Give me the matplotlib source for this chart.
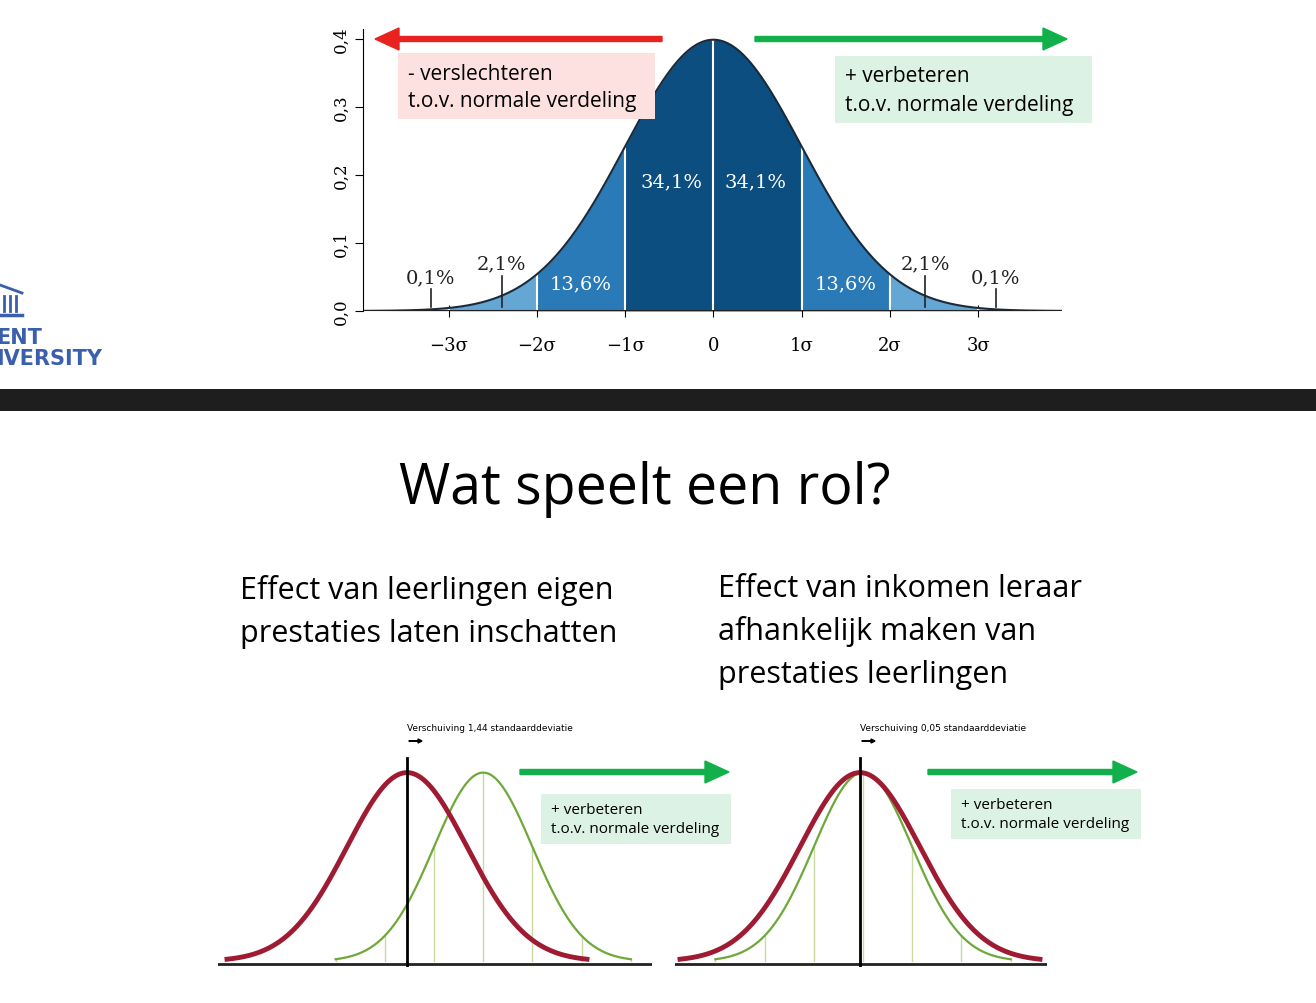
import numpy as np
import matplotlib
matplotlib.use("Agg")
import matplotlib.pyplot as plt
from matplotlib.patches import Rectangle, FancyArrow

W, H = 1316, 1004
sigma_ticks = [-3, -2, -1, 0, 1, 2, 3]
sigma_labels = ["\u22123\u03c3", "\u22122\u03c3", "\u22121\u03c3", "0", "1\u03c3", "2\u03c3", "3\u03c3"]
y_ticks = [0.0, 0.1, 0.2, 0.3, 0.4]
y_labels = ["0,0", "0,1", "0,2", "0,3", "0,4"]
band_pcts = ["13,6%", "34,1%", "34,1%", "13,6%"]
tail_pcts = ["0,1%", "2,1%", "2,1%", "0,1%"]
shift_left = 1.44
shift_right = 0.05

def pdf(x, m=0.0, s=1.0):
    return np.exp(-0.5 * ((x - m) / s) ** 2) / (s * np.sqrt(2 * np.pi))

fig = plt.figure(figsize=(W / 100, H / 100), dpi=100)
bg = fig.add_axes([0, 0, 1, 1])
bg.set_xlim(0, W); bg.set_ylim(H, 0); bg.axis("off")
bg.set_zorder(10); bg.patch.set_alpha(0)

def ax_px(l, t, r, b):
    a = fig.add_axes([l / W, 1 - b / H, (r - l) / W, (b - t) / H])
    a.patch.set_alpha(0)
    return a

# ---------- top chart ----------
ax = ax_px(363, 30, 1062, 312)
ax.set_xlim(-3.97, 3.95); ax.set_ylim(0, 0.4147)
x = np.linspace(-3.97, 3.95, 800)
cols = {0: "#0d4e80", 1: "#2a7ab8", 2: "#64a6d4", 3: "#a8cbe6"}
for lo, hi, c in [(-3.97, -3, 3), (-3, -2, 2), (-2, -1, 1), (-1, 0, 0), (0, 1, 0), (1, 2, 1), (2, 3, 2), (3, 3.95, 3)]:
    xs = np.linspace(lo, hi, 100)
    ax.fill_between(xs, 0, pdf(xs), color=cols[c], lw=0)
for b in [-3, -2, -1, 0, 1, 2, 3]:
    ax.plot([b, b], [0, pdf(b)], color="white", lw=1.5)
ax.plot(x, pdf(x), color="#1a2a3a", lw=1.5)
ax.plot([-3.97, 3.95], [0, 0], color="#222", lw=1.5)
for s in ["top", "right", "bottom"]:
    ax.spines[s].set_visible(False)
ax.set_xticks(sigma_ticks)
ax.set_xticklabels(sigma_labels, fontfamily="DejaVu Serif", fontsize=13)
ax.tick_params(axis="x", length=8, direction="inout", pad=14)
ax.set_yticks(y_ticks)
ax.set_yticklabels(y_labels, rotation=90, fontfamily="DejaVu Serif", fontsize=12, va="center")
ax.tick_params(axis="y", length=6)
for xc, yc, t in [(-1.5, 0.04, band_pcts[0]), (-0.48, 0.19, band_pcts[1]), (0.48, 0.19, band_pcts[2]), (1.5, 0.04, band_pcts[3])]:
    ax.text(xc, yc, t, color="white", ha="center", va="center", fontsize=14, fontfamily="DejaVu Serif")
for xc, yc, t in [(-3.2, 0.05, tail_pcts[0]), (-2.4, 0.07, tail_pcts[1]), (2.4, 0.07, tail_pcts[2]), (3.2, 0.05, tail_pcts[3])]:
    ax.text(xc, yc, t, color="#222", ha="center", va="center", fontsize=14, fontfamily="DejaVu Serif")
    ax.plot([xc, xc], [0.006, yc - 0.018], color="#222", lw=1.2)

# arrows and boxes (top)
bg.add_patch(FancyArrow(662, 40, -263, 0, width=5, head_width=22, head_length=24, color="#e8221f"))
bg.add_patch(FancyArrow(755, 40, 288, 0, width=5, head_width=22, head_length=24, color="#12b04a"))
bg.add_patch(Rectangle((398, 54), 257, 66, color="#fde0e0", lw=0))
bg.add_patch(Rectangle((835, 57), 257, 67, color="#dcf2e4", lw=0))
bg.text(408, 74, "- verslechteren", fontsize=15, va="center", fontfamily="Open Sans")
bg.text(408, 102, "t.o.v. normale verdeling", fontsize=15, va="center", fontfamily="Open Sans")
bg.text(845, 77, "+ verbeteren", fontsize=15, va="center", fontfamily="Open Sans")
bg.text(845, 106, "t.o.v. normale verdeling", fontsize=15, va="center", fontfamily="Open Sans")

# logo fragment
bg.text(-4, 338, "ENT", color="#3a5fae", fontsize=15, fontweight="bold", va="center", fontfamily="DejaVu Sans")
bg.text(-4, 359, "IVERSITY", color="#3a5fae", fontsize=15, fontweight="bold", va="center", fontfamily="DejaVu Sans")
bg.plot([0, 22], [286, 294], color="#3a5fae", lw=2)
for xx in [4, 10, 16]:
    bg.plot([xx, xx], [297, 312], color="#3a5fae", lw=2)
bg.plot([0, 22], [316, 316], color="#3a5fae", lw=2.5)

# black band
bg.add_patch(Rectangle((0, 390), W, 22, color="#1e1e1e", lw=0))

bg.text(645, 490, "Wat speelt een rol?", fontsize=40, ha="center", va="center", fontfamily="Open Sans")
bg.text(240, 591, "Effect van leerlingen eigen", fontsize=22, va="center", fontfamily="Open Sans")
bg.text(240, 634, "prestaties laten inschatten", fontsize=22, va="center", fontfamily="Open Sans")
bg.text(718, 589, "Effect van inkomen leraar", fontsize=22, va="center", fontfamily="Open Sans")
bg.text(718, 632, "afhankelijk maken van", fontsize=22, va="center", fontfamily="Open Sans")
bg.text(718, 675, "prestaties leerlingen", fontsize=22, va="center", fontfamily="Open Sans")

# ---------- bottom charts ----------
def small(l, r, zero_px, sig_px, shift, label, arrow_x, box):
    a = ax_px(l, 740, r, 968)
    x0 = (l - zero_px) / sig_px
    x1 = (r - zero_px) / sig_px
    a.set_xlim(x0, x1); a.set_ylim(-0.012, 0.47)
    a.axis("off")
    gs = 0.82
    xs = np.linspace(-3, 3, 400)
    gx = shift + xs * gs
    for k in range(-3, 4):
        a.plot([shift + k * gs] * 2, [0, pdf(k)], color="#c9d9a0", lw=1)
    a.plot(gx, pdf(xs), color="#6fa83a", lw=1.6)
    a.plot(xs, pdf(xs), color="#9e1b32", lw=3.5)
    a.plot([x0, x1], [-0.006, -0.006], color="#222", lw=2)
    a.plot([0, 0], [-0.012, 0.43], color="black", lw=2)
    bg.text(zero_px, 729, label, fontsize=6.5, va="center", fontfamily="DejaVu Sans")
    bg.add_patch(FancyArrow(zero_px + 2, 742, 9, 0, width=0.6, head_width=4, head_length=4, color="black"))
    bg.add_patch(FancyArrow(arrow_x, 773, 185, 0, width=5, head_width=22, head_length=24, color="#12b04a"))
    bx, by = box
    bg.add_patch(Rectangle((bx, by), 190, 50, color="#dcf2e4", lw=0))
    bg.text(bx + 10, by + 16, "+ verbeteren", fontsize=11, va="center", fontfamily="Open Sans")
    bg.text(bx + 10, by + 35, "t.o.v. normale verdeling", fontsize=11, va="center", fontfamily="Open Sans")

small(218, 652, 407, 60, shift_left * 49 / 60 * 1.08, "Verschuiving 1,44 standaarddeviatie", 520, (541, 795))
small(675, 1047, 860, 60, shift_right, "Verschuiving 0,05 standaarddeviatie", 928, (951, 790))

fig.savefig("out.png", dpi=100)
